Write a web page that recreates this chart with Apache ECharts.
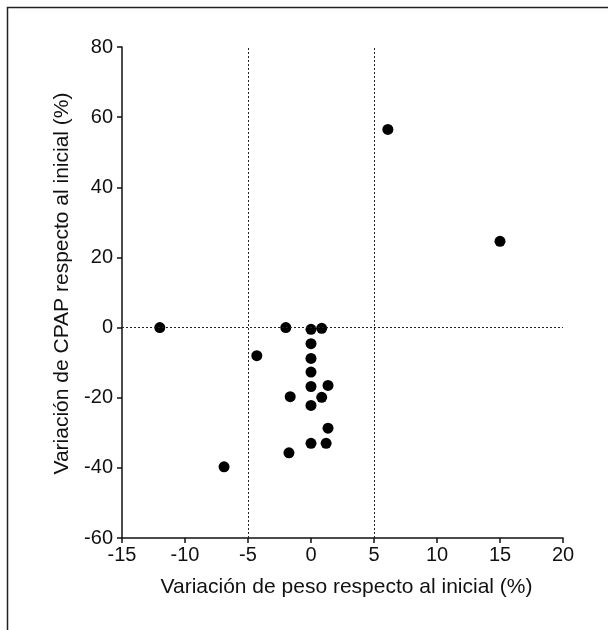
<!DOCTYPE html>
<html>
<head>
<meta charset="utf-8">
<script src="https://cdn.jsdelivr.net/npm/echarts@6/dist/echarts.min.js"></script>
<style>
  html, body { margin: 0; padding: 0; background: #fff; }
  #chart { width: 608px; height: 630px; }
</style>
</head>
<body>
<div id="chart"></div>
<script>
/* weight change vs CPAP change scatter */
var pesoX = [-12, -2.0, 0, 0.85, 0, -4.3, 0, 0, 0, 1.35, -1.65, 0.85, 0, 1.35, 0, 1.2, -1.75, -6.9, 6.1, 15];
var cpapY = [0, 0, -0.5, -0.2, -4.6, -8, -8.8, -12.7, -16.8, -16.5, -19.7, -19.9, -22.2, -28.7, -33, -33, -35.7, -39.7, 56.5, 24.6];
var refX = [-5, 5];
var refY = [0];

var points = pesoX.map(function (x, i) { return [x, cpapY[i]]; });

var dotted = { color: '#222', width: 1, type: [2, 2] };
var lines = refX.map(function (v) { return { xAxis: v }; })
  .concat(refY.map(function (v) { return { yAxis: v }; }));

var option = {
  animation: false,
  backgroundColor: '#fff',
  textStyle: { fontFamily: 'Liberation Sans, Arial, sans-serif' },
  grid: { left: 122, top: 47, right: 45, bottom: 92 },
  graphic: [{
    type: 'rect',
    shape: { x: 7.5, y: 7.5, width: 640, height: 660 },
    style: { fill: 'none', stroke: '#222', lineWidth: 1.5 },
    silent: true
  }],
  xAxis: {
    type: 'value',
    min: -15, max: 20, interval: 5,
    name: 'Variación de peso respecto al inicial (%)',
    nameLocation: 'middle',
    nameGap: 39,
    nameTextStyle: { fontSize: 21, color: '#111', padding: [0, 0, 0, 8] },
    axisLine: { show: true, onZero: false, lineStyle: { color: '#111', width: 1.5 } },
    axisTick: { show: true, length: 5, lineStyle: { color: '#111', width: 1.5 } },
    axisLabel: { fontSize: 20, color: '#111', margin: 7 },
    splitLine: { show: false }
  },
  yAxis: {
    type: 'value',
    min: -60, max: 80, interval: 20,
    name: 'Variación de CPAP respecto al inicial (%)',
    nameLocation: 'middle',
    nameGap: 49,
    nameTextStyle: { fontSize: 21, color: '#111', padding: [0, 0, 0, 18] },
    axisLine: { show: true, onZero: false, lineStyle: { color: '#111', width: 1.5 } },
    axisTick: { show: true, length: 5, lineStyle: { color: '#111', width: 1.5 } },
    axisLabel: { fontSize: 20, color: '#111', margin: 9 },
    splitLine: { show: false }
  },
  series: [{
    type: 'scatter',
    data: points,
    symbolSize: 11,
    itemStyle: { color: '#000', opacity: 1 },
    z: 3,
    markLine: {
      silent: true,
      symbol: 'none',
      label: { show: false },
      lineStyle: dotted,
      data: lines
    }
  }]
};

var chart = echarts.init(document.getElementById('chart'));
chart.setOption(option);
</script>
</body>
</html>
